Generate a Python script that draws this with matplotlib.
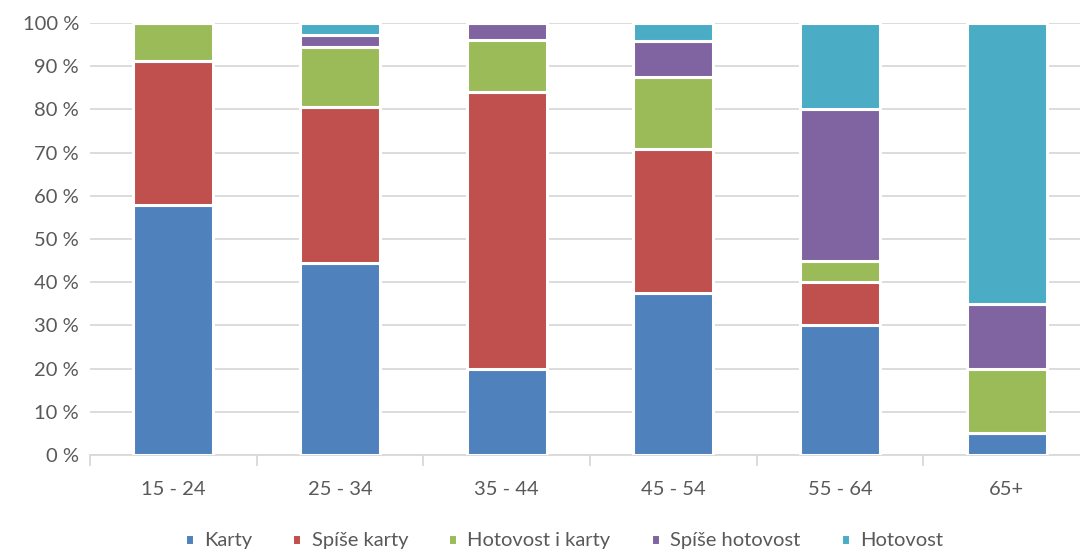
import numpy as np
import matplotlib.pyplot as plt
from matplotlib.ticker import FixedLocator

plt.rcParams['font.family'] = ['Lato', 'DejaVu Sans']

# Data (share of respondents, %)
groups = ['15 - 24', '25 - 34', '35 - 44', '45 - 54', '55 - 64', '65+']
series = ['Karty', 'Spíše karty', 'Hotovost i karty', 'Spíše hotovost', 'Hotovost']
karty = [57.8, 44.4, 20.0, 37.5, 30.0, 5.0]
spise_karty = [33.3, 36.1, 64.0, 33.3, 10.0, 0.0]
hotovost_i_karty = [8.9, 13.9, 12.0, 16.7, 5.0, 15.0]
spise_hotovost = [0.0, 2.8, 4.0, 8.3, 35.0, 15.0]
hotovost = [0.0, 2.8, 0.0, 4.2, 20.0, 65.0]
colors = ['#4F81BD', '#C0504D', '#9BBB59', '#8064A2', '#4BACC6']

values = [karty, spise_karty, hotovost_i_karty, spise_hotovost, hotovost]

fig = plt.figure(figsize=(10.8, 5.51), dpi=100)
ax = fig.add_axes([90 / 1080, 96 / 551, 1000 / 1080, 432 / 551])

x = np.arange(len(groups))
bottom = np.zeros(len(groups))
for name, vals, col in zip(series, values, colors):
    ax.bar(x, vals, width=0.48, bottom=bottom, color=col, edgecolor='white',
           linewidth=2.2, label=name, zorder=3)
    bottom += np.array(vals)

ax.set_xlim(-0.5, len(groups) - 0.5)
ax.set_ylim(0, 100)
ax.set_yticks(np.arange(0, 101, 10))
ax.set_yticklabels([f'{v} %' for v in range(0, 101, 10)])
ax.set_xticks(x)
ax.set_xticklabels(groups)
ax.xaxis.set_minor_locator(FixedLocator(np.arange(-0.5, len(groups), 1)))

ax.grid(axis='y', color='#D9D9D9', linewidth=1.3, zorder=0)
for s in ['top', 'right', 'left']:
    ax.spines[s].set_visible(False)
ax.spines['bottom'].set_color('#D9D9D9')
ax.spines['bottom'].set_linewidth(1.3)

ax.tick_params(axis='y', length=0, pad=8, labelsize=14.5, labelcolor='#595959')
ax.tick_params(axis='x', which='major', length=0, pad=19, labelsize=14.5,
               labelcolor='#595959')
ax.tick_params(axis='x', which='minor', length=8, width=1.3, color='#D9D9D9')

leg = fig.legend(loc='lower center', bbox_to_anchor=(0.522, -0.03), ncol=5,
                 frameon=False, fontsize=14.5, handlelength=0.45, handleheight=0.45,
                 handletextpad=0.5, columnspacing=2.0)
for t in leg.get_texts():
    t.set_color('#595959')

fig.savefig('out.png', dpi=100)
